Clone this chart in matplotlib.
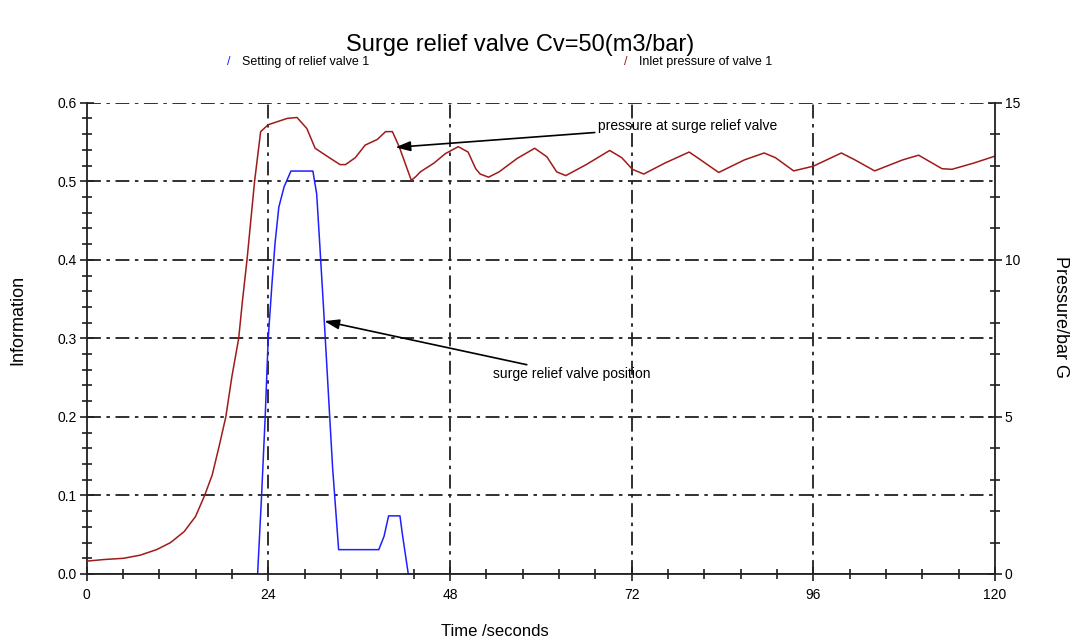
import matplotlib
matplotlib.use("Agg")
import matplotlib.pyplot as plt
from matplotlib.ticker import MultipleLocator
import numpy as np

plt.rcParams['font.family'] = ['Liberation Sans', 'DejaVu Sans']
plt.rcParams['lines.scale_dashes'] = False

# valve opening (information, left axis)
t_valve = [0, 22.6, 23.1, 23.6, 24.0, 24.5, 24.9, 25.4, 26.1, 27.0, 29.9, 30.4,
           30.8, 31.3, 32.0, 32.5, 33.3, 38.6, 39.3, 39.9, 41.4, 41.7, 42.5, 120]
valve_pos = [0, 0, 0.095, 0.2, 0.3, 0.37, 0.421, 0.467, 0.493, 0.513, 0.513, 0.484,
             0.421, 0.34, 0.221, 0.136, 0.031, 0.031, 0.048, 0.074, 0.074, 0.052, 0.0, 0]

# inlet pressure (bar G, right axis)
t_press = [0, 2.3, 4.9, 7.1, 9.3, 11.1, 12.9, 14.4, 15.6, 16.6, 17.5, 18.4, 19.2,
           20.1, 20.6, 21.2, 22.2, 23.0, 24.0, 26.5, 27.8, 29.1, 30.2, 32.2, 33.5,
           34.2, 35.5, 36.8, 38.4, 39.5, 40.4, 41.3, 42.9, 43.5, 44.1, 45.9, 47.4,
           49.1, 50.4, 51.4, 52.0, 53.1, 54.5, 56.9, 59.2, 60.8, 62.1, 63.3, 66.0,
           69.1, 70.7, 72.1, 73.6, 76.4, 79.6, 81.0, 83.5, 86.9, 89.5, 91.0, 93.4,
           96.0, 99.7, 101.5, 104.1, 107.8, 109.9, 113.0, 114.3, 117.2, 120.0]
pressure = [0.41, 0.46, 0.50, 0.60, 0.78, 1.00, 1.35, 1.83, 2.50, 3.15, 4.05, 5.00, 6.28,
            7.50, 8.70, 10.0, 12.5, 14.08, 14.30, 14.50, 14.53, 14.18, 13.55, 13.23, 13.03,
            13.03, 13.25, 13.65, 13.83, 14.08, 14.08, 13.60, 12.53, 12.65, 12.80, 13.08, 13.38,
            13.60, 13.43, 12.90, 12.73, 12.63, 12.80, 13.23, 13.55, 13.28, 12.80, 12.68, 13.03,
            13.48, 13.25, 12.88, 12.73, 13.08, 13.43, 13.20, 12.78, 13.18, 13.40, 13.25, 12.83,
            12.98, 13.40, 13.18, 12.83, 13.18, 13.33, 12.90, 12.88, 13.08, 13.30]

x_major = [0, 24, 48, 72, 96, 120]

fig = plt.figure(figsize=(10.72, 6.44), dpi=100)
ax = fig.add_axes([0.0807, 0.1087, 0.8475, 0.7318])
ax2 = ax.twinx()

grid_style = dict(color='#202020', lw=1.3, linestyle=(0, (10, 4, 2.5, 4)), zorder=1)
for yv in [0.1, 0.2, 0.3, 0.4, 0.5, 0.6]:
    ax.axhline(yv, **grid_style)
for xv in x_major[1:-1]:
    ax.axvline(xv, **grid_style)

ax.plot(t_valve, valve_pos, color='#1f1fff', lw=1.1, zorder=2)
ax2.plot(t_press, pressure, color='#a01a1a', lw=1.1, zorder=2)

ax.set_xlim(0, 120)
ax.set_ylim(0, 0.6)
ax2.set_ylim(0, 15)

ax.xaxis.set_major_locator(MultipleLocator(24))
ax.xaxis.set_minor_locator(MultipleLocator(4.8))
ax.yaxis.set_major_locator(MultipleLocator(0.1))
ax.yaxis.set_minor_locator(MultipleLocator(0.02))
ax2.yaxis.set_major_locator(MultipleLocator(5))
ax2.yaxis.set_minor_locator(MultipleLocator(1))
ax.yaxis.set_major_formatter(plt.FuncFormatter(lambda v, p: f"{v:.1f}"))

for a in (ax, ax2):
    a.spines['top'].set_visible(False)
    for s in a.spines.values():
        s.set_linewidth(1.3)
        s.set_color('#202020')
    a.tick_params(which='major', direction='inout', length=10, width=1.2,
                  labelsize=10, pad=2, color='#202020')
    a.tick_params(which='minor', direction='inout', length=7, width=1.2, color='#202020')
ax.spines['right'].set_visible(False)
ax2.spines['left'].set_visible(False)
ax2.spines['bottom'].set_visible(False)
ax.tick_params(axis='x', which='major', pad=5)

ax.set_ylabel('Information', fontsize=13)
ax.yaxis.set_label_coords(-0.0666, 0.54)
ax2.set_ylabel('Pressure/bar G', fontsize=13, rotation=-90, va='center')
ax2.yaxis.set_label_coords(1.072, 0.545)
ax.set_xlabel('Time /seconds', fontsize=12)
ax.xaxis.set_label_coords(0.45, -0.106)

fig.text(0.485, 0.93, 'Surge relief valve Cv=50(m3/bar)', ha='center', va='center',
         fontsize=17)

# legend entries
fig.text(0.212, 0.903, '/', color='#1f1fff', fontsize=9, va='center')
fig.text(0.226, 0.903, 'Setting of relief valve 1', fontsize=9, va='center')
fig.text(0.582, 0.903, '/', color='#a01a1a', fontsize=9, va='center')
fig.text(0.596, 0.903, 'Inlet pressure of valve 1', fontsize=9, va='center')

arrow = dict(arrowstyle='-|>,head_length=0.9,head_width=0.3', color='black', lw=1.2,
             shrinkA=0, shrinkB=0)
ax2.annotate('pressure at surge relief valve', xy=(40.8, 13.58), xytext=(67.5, 14.27),
             arrowprops=arrow, fontsize=10, va='center', ha='left')
ax.annotate('surge relief valve position', xy=(31.4, 0.322), xytext=(53.75, 0.254),
             arrowprops=arrow, fontsize=10, va='center', ha='left')

fig.savefig('out.png', dpi=100)
